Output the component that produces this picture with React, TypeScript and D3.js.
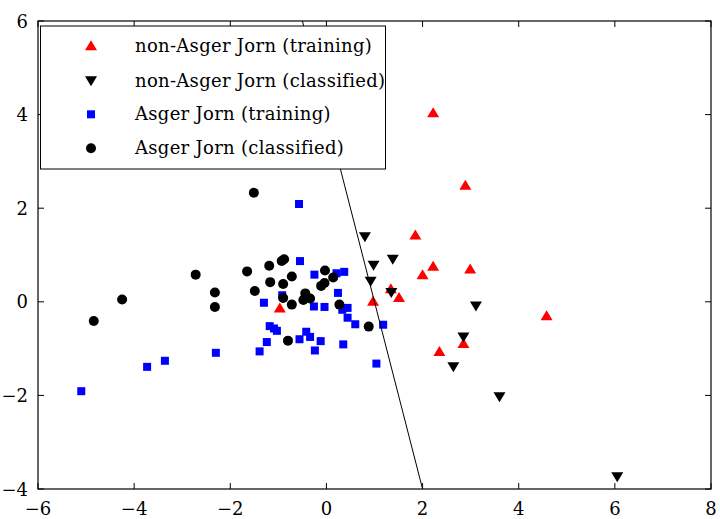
import React from "react";
import * as d3 from "d3";

const W = 720;
const H = 519;

const xTicks = [-6, -4, -2, 0, 2, 4, 6, 8];
const yTicks = [-4, -2, 0, 2, 4, 6];

const legendLabels = [
  "non-Asger Jorn (training)",
  "non-Asger Jorn (classified)",
  "Asger Jorn (training)",
  "Asger Jorn (classified)",
];

// non-Asger Jorn (training): red up-triangles
const nonAsgerTrainX = [2.22, 2.89, 1.85, 2.22, 2.0, 2.99, 1.51, 1.34, 0.97, 4.58, 2.85, 2.35, -0.97];
const nonAsgerTrainY = [4.04, 2.49, 1.43, 0.76, 0.58, 0.7, 0.09, 0.28, 0.01, -0.3, -0.89, -1.06, -0.13];

// non-Asger Jorn (classified): black down-triangles
const nonAsgerClassX = [0.8, 0.98, 1.38, 0.92, 1.35, 3.11, 2.85, 2.64, 3.6, 6.05];
const nonAsgerClassY = [1.39, 0.78, 0.91, 0.44, 0.2, -0.09, -0.75, -1.39, -2.03, -3.74];

// Asger Jorn (training): blue squares
const asgerTrainX = [
  -0.57, -0.55, -0.25, 0.21, 0.37, 0.24, -1.3, -0.26, -0.04, 0.33, 0.44, 0.44, 0.6, 1.18, -1.18, -1.09,
  -1.03, -1.24, -0.56, -0.42, -0.34, -0.12, 0.35, -0.24, -1.39, -2.3, 1.04, -3.36, -3.73, -5.1, -0.92,
];
const asgerTrainY = [
  2.09, 0.87, 0.58, 0.61, 0.64, 0.19, -0.02, -0.1, -0.11, -0.17, -0.13, -0.34, -0.48, -0.49, -0.52, -0.57,
  -0.62, -0.86, -0.8, -0.64, -0.75, -0.84, -0.91, -1.04, -1.06, -1.09, -1.32, -1.26, -1.39, -1.91, 0.14,
];

// Asger Jorn (classified): black circles
const asgerClassX = [
  -1.51, -2.72, -1.65, -1.19, -0.93, -0.88, -1.17, -0.72, -0.9, -1.49, -2.32, -2.32, -0.9, -0.72, -0.44,
  -0.48, -0.34, -0.03, 0.14, -0.11, -0.04, 0.27, 0.88, -0.8, -4.25, -4.84,
];
const asgerClassY = [
  2.33, 0.58, 0.65, 0.77, 0.87, 0.91, 0.42, 0.54, 0.38, 0.23, 0.2, -0.11, 0.08, -0.06, 0.18, 0.04, 0.07,
  0.67, 0.52, 0.34, 0.4, -0.06, -0.53, -0.83, 0.05, -0.41,
];

// decision boundary endpoints
const boundaryX = [2.0, -0.5];
const boundaryY = [-4.0, 6.0];

const FONT = '"DejaVu Serif", "Liberation Serif", serif';

const left = 38;
const right = 711;
const top = 21;
const bottom = 489;

const x = d3.scaleLinear().domain([-6, 8]).range([left, right]);
const y = d3.scaleLinear().domain([-4, 6]).range([bottom, top]);

const fmt = (v: number) => (v < 0 ? "\u2212" + Math.abs(v) : String(v));

const triUp = (cx: number, cy: number) =>
  `M${cx},${cy - 5.5}L${cx + 6},${cy + 4.5}L${cx - 6},${cy + 4.5}Z`;
const triDown = (cx: number, cy: number) =>
  `M${cx},${cy + 5.5}L${cx + 6},${cy - 4.5}L${cx - 6},${cy - 4.5}Z`;

function Marker({ kind, cx, cy }: { kind: number; cx: number; cy: number }) {
  if (kind === 0) return <path d={triUp(cx, cy)} fill="#ff0000" />;
  if (kind === 1) return <path d={triDown(cx, cy)} fill="#000000" />;
  if (kind === 2) return <rect x={cx - 4} y={cy - 4} width={8} height={8} fill="#0000ff" />;
  return <circle cx={cx} cy={cy} r={5} fill="#000000" />;
}

export default function App() {
  const line = d3
    .line<number>()
    .x((_, i) => x(boundaryX[i]))
    .y((_, i) => y(boundaryY[i]));
  const series = [
    { xs: nonAsgerTrainX, ys: nonAsgerTrainY },
    { xs: nonAsgerClassX, ys: nonAsgerClassY },
    { xs: asgerTrainX, ys: asgerTrainY },
    { xs: asgerClassX, ys: asgerClassY },
  ];
  const legendRows = [45.7, 80.7, 114.3, 148.3];
  return (
    <svg
      width={W}
      height={H}
      style={{ position: "absolute", left: 0, top: 0, background: "#fff", fontFamily: FONT }}
    >
      <defs>
        <clipPath id="plot">
          <rect x={left} y={top} width={right - left} height={bottom - top} />
        </clipPath>
      </defs>
      <rect x={0} y={0} width={W} height={H} fill="#fff" />
      <g clipPath="url(#plot)">
        {series.map((s, k) =>
          s.xs.map((v, i) => <Marker key={`${k}-${i}`} kind={k} cx={x(v)} cy={y(s.ys[i])} />)
        )}
        <path d={line([0, 1]) || ""} stroke="#000" strokeWidth={1} fill="none" />
      </g>
      {xTicks.map((t) => (
        <g key={`xt${t}`}>
          <line x1={x(t)} x2={x(t)} y1={bottom} y2={bottom - 6} stroke="#000" />
          <line x1={x(t)} x2={x(t)} y1={top} y2={top + 6} stroke="#000" />
          <text x={x(t)} y={515} fontSize={18} textAnchor="middle">
            {fmt(t)}
          </text>
        </g>
      ))}
      {yTicks.map((t) => (
        <g key={`yt${t}`}>
          <line x1={left} x2={left + 6} y1={y(t)} y2={y(t)} stroke="#000" />
          <line x1={right} x2={right - 6} y1={y(t)} y2={y(t)} stroke="#000" />
          <text x={28} y={y(t) + 6.5} fontSize={18} textAnchor="end">
            {fmt(t)}
          </text>
        </g>
      ))}
      <rect x={left} y={top} width={right - left} height={bottom - top} fill="none" stroke="#000" strokeWidth={1.2} />
      <rect x={40.5} y={26} width={345} height={143} fill="#fff" stroke="#000" strokeWidth={1} />
      {legendLabels.map((lab, i) => (
        <g key={lab}>
          <Marker kind={i} cx={91} cy={legendRows[i]} />
          <text x={135} y={legendRows[i] + 6} fontSize={18} letterSpacing={0.3}>
            {lab}
          </text>
        </g>
      ))}
    </svg>
  );
}
